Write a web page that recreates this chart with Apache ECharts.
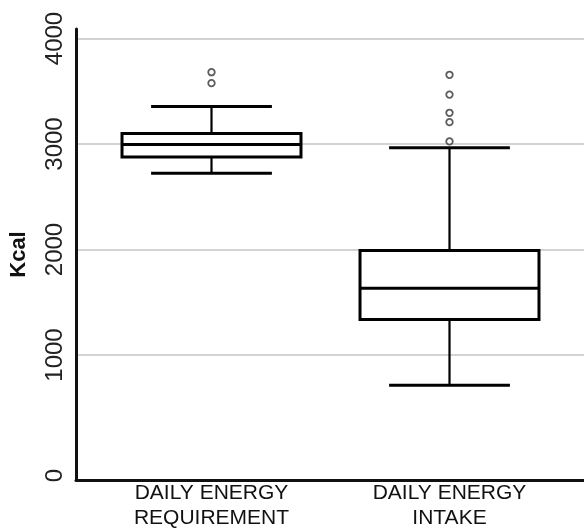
<!DOCTYPE html>
<html>
<head>
<meta charset="utf-8">
<script src="https://cdn.jsdelivr.net/npm/echarts@6/dist/echarts.min.js"></script>
<style>html,body{margin:0;padding:0;background:#fff}#c{width:584px;height:531px}</style>
</head>
<body>
<div id="c"></div>
<script>
const categories = ['DAILY ENERGY\nREQUIREMENT', 'DAILY ENERGY\nINTAKE'];
const lowerWhisker = [2705, 668];
const q1 = [2860, 1300];
const median = [2980, 1600];
const q3 = [3085, 1962];
const upperWhisker = [3345, 2950];
const outlierCategory = [0, 0, 1, 1, 1, 1, 1];
const outlierValue = [3570, 3675, 3010, 3195, 3285, 3460, 3650];
const yMin = -185;
const yMax = 4090;

const boxData = categories.map((c, i) => [i, lowerWhisker[i], q1[i], median[i], q3[i], upperWhisker[i]]);
const outlierData = outlierValue.map((v, i) => [outlierCategory[i], v]);

const chart = echarts.init(document.getElementById('c'), null, {renderer: 'canvas'});
const font = 'Liberation Sans, Arial, sans-serif';
const grey = '#c4c4c4';
const option = {
  backgroundColor: '#ffffff',
  animation: false,
  grid: [
    {left: 72, right: 0, top: 29, bottom: 51},
    {left: 92.5, right: 15.5, top: 29, bottom: 51}
  ],
  xAxis: [
    {type: 'category', gridIndex: 0, data: ['', ''],
     axisLine: {show: true, onZero: false, lineStyle: {color: '#111', width: 3}},
     axisTick: {show: false}, axisLabel: {show: false}, splitLine: {show: false}},
    {type: 'category', gridIndex: 1, data: categories,
     axisLine: {show: false, onZero: false}, axisTick: {show: false},
     axisLabel: {show: true, margin: 7, fontFamily: font, fontSize: 21, color: '#111', lineHeight: 25}}
  ],
  yAxis: [
    {type: 'value', gridIndex: 0, min: yMin, max: yMax, splitNumber: 5,
     name: 'Kcal', nameLocation: 'middle', nameGap: 46, nameRotate: 90,
     nameTextStyle: {fontFamily: font, fontSize: 22, fontWeight: 'bold', color: '#111'},
     axisLine: {show: true, lineStyle: {color: '#111', width: 3}},
     axisTick: {show: false},
     axisLabel: {show: true, rotate: 90, margin: 9, showMinLabel: false, showMaxLabel: false,
       formatter: function (v) { return v === 0 ? '{z|0}' : String(v); },
       rich: {z: {fontFamily: font, fontSize: 24, color: '#222', padding: [0, 30, 0, 0]}},
       fontFamily: font, fontSize: 24, color: '#222'},
     splitLine: {show: true, showMinLine: false, showMaxLine: false,
       lineStyle: {color: ['rgba(0,0,0,0)', grey, grey, grey, grey], width: 1.5}}},
    {type: 'value', gridIndex: 1, min: yMin, max: yMax, show: false, splitLine: {show: false}}
  ],
  series: [
    {
      type: 'custom', xAxisIndex: 1, yAxisIndex: 1, data: boxData, z: 5,
      renderItem: function (params, api) {
        const i = api.value(0);
        const band = api.size([1, 0])[0];
        const bw = band * 0.752;
        const cw = bw * 0.675;
        const pLo = api.coord([i, api.value(1)]);
        const pQ1 = api.coord([i, api.value(2)]);
        const pMed = api.coord([i, api.value(3)]);
        const pQ3 = api.coord([i, api.value(4)]);
        const pHi = api.coord([i, api.value(5)]);
        const x = pQ1[0];
        const st = {stroke: '#000', lineWidth: 3, fill: null};
        const thin = {stroke: '#000', lineWidth: 2.2, fill: null};
        return {type: 'group', children: [
          {type: 'line', shape: {x1: x, y1: pQ3[1], x2: x, y2: pHi[1]}, style: thin},
          {type: 'line', shape: {x1: x, y1: pQ1[1], x2: x, y2: pLo[1]}, style: thin},
          {type: 'line', shape: {x1: x - cw / 2, y1: pHi[1], x2: x + cw / 2, y2: pHi[1]}, style: st},
          {type: 'line', shape: {x1: x - cw / 2, y1: pLo[1], x2: x + cw / 2, y2: pLo[1]}, style: st},
          {type: 'rect', shape: {x: x - bw / 2, y: pQ3[1], width: bw, height: pQ1[1] - pQ3[1]}, style: {stroke: '#000', lineWidth: 3, fill: '#fff'}},
          {type: 'line', shape: {x1: x - bw / 2, y1: pMed[1], x2: x + bw / 2, y2: pMed[1]}, style: st}
        ]};
      }
    },
    {
      type: 'scatter', xAxisIndex: 1, yAxisIndex: 1, data: outlierData, z: 6,
      symbol: 'circle', symbolSize: 6.5,
      itemStyle: {color: '#fff', borderColor: '#333', borderWidth: 1.8}
    }
  ]
};
chart.setOption(option);
</script>
</body>
</html>
